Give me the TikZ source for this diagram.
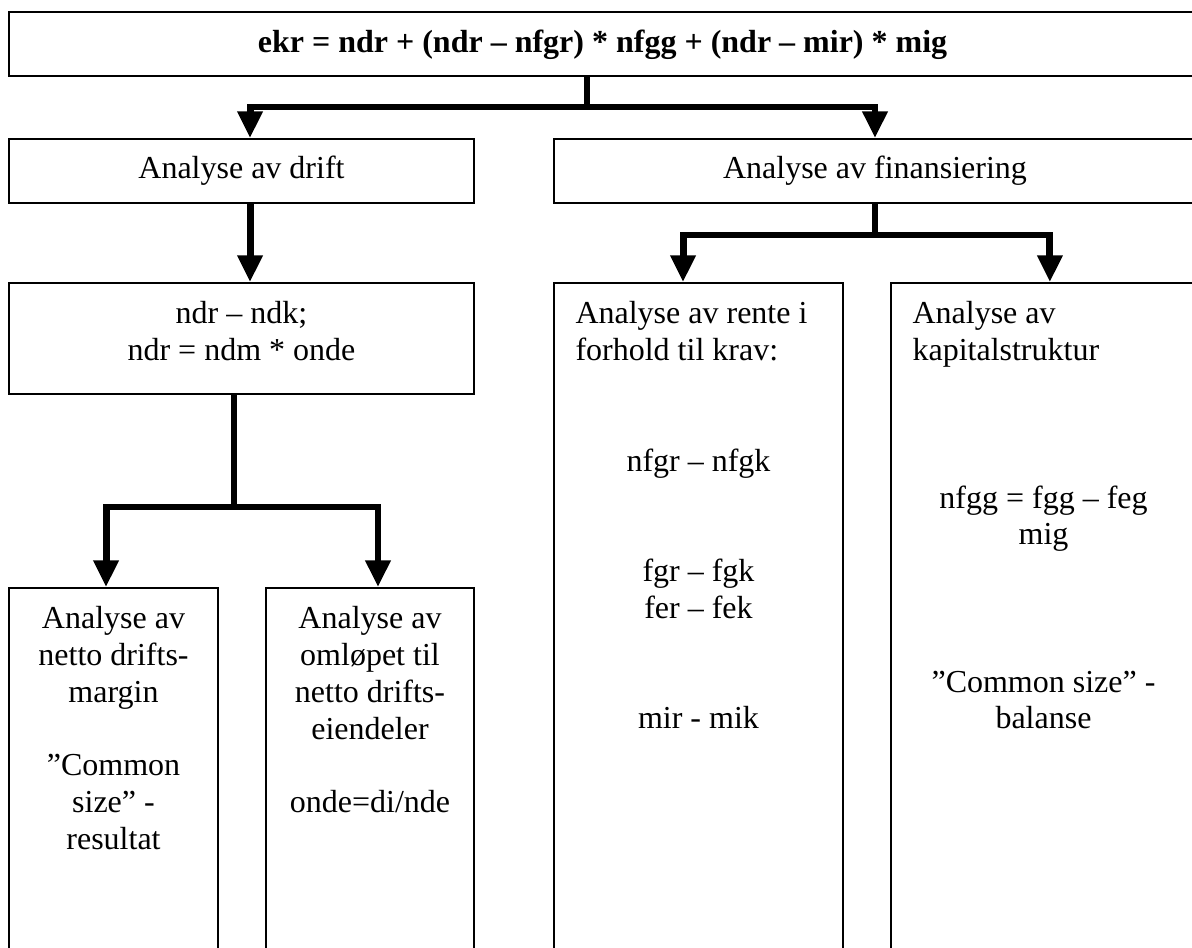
\documentclass[tikz,border=0pt]{standalone}
\usepackage{fontspec}
\setmainfont{Liberation Serif}
\usetikzlibrary{arrows.meta}

\begin{document}
\begin{tikzpicture}[x=0.375pt,y=-0.375pt,
  boks/.style 2 args={draw,line width=0.7pt,inner sep=0pt,minimum width=#1*0.375pt,minimum height=#2*0.375pt},
  tekst/.style={inner sep=0pt,align=center,font=\fontsize{12}{13.8}\selectfont},
  linje/.style={line width=2.6pt},
  pil/.style={line width=2.6pt,-{Triangle[width=9pt,length=10pt]}}]
  \useasboundingbox (0,0) rectangle (1192,948);
  \clip (0,0) rectangle (1192,948);
  % boxes (right and bottom edges run off the page)
  \node[boks={1187}{64}] (topp) at (602.5,44) {};
  \node[boks={465}{64}] (drift) at (241.5,171) {};
  \node[boks={642}{64}] (fin) at (875,171) {};
  \node[boks={465}{111}] (ndr) at (241.5,338.5) {};
  \node[boks={209}{392}] (margin) at (113.5,784) {};
  \node[boks={208}{392}] (omlop) at (370,784) {};
  \node[boks={289}{697}] (rente) at (698.5,631.5) {};
  \node[boks={305}{697}] (kapital) at (1043.5,631.5) {};
  % texts
  \node[tekst,font=\fontsize{12}{13.8}\selectfont\bfseries,anchor=base] (topp-t) at (602.5,53)
    {ekr = ndr + (ndr – nfgr) * nfgg + (ndr – mir) * mig};
  \node[tekst,anchor=base] (drift-t) at (241.5,179) {Analyse av drift};
  \node[tekst,anchor=base] (fin-t) at (875,179) {Analyse av finansiering};
  \node[tekst,anchor=north] (ndr-t) at (241.5,301) {ndr – ndk;\\ ndr = ndm * onde};
  \node[tekst,anchor=north] (margin-t) at (113.5,606)
    {Analyse av\\ netto drifts-\\ margin\\[13.8pt] ”Common\\ size” -\\ resultat};
  \node[tekst,anchor=north] (omlop-t) at (370,606)
    {Analyse av\\ omløpet til\\ netto drifts-\\ eiendeler\\[13.8pt] onde=di/nde};
  \node[tekst,align=left,anchor=north west] (rente-h) at (575,301) {Analyse av rente i\\ forhold til krav:};
  \node[tekst,anchor=north] (rente-t) at (698.5,448)
    {nfgr – nfgk\\[27.6pt] fgr – fgk\\ fer – fek\\[27.6pt] mir - mik};
  \node[tekst,align=left,anchor=north west] (kapital-h) at (912,301) {Analyse av\\ kapitalstruktur};
  \node[tekst,anchor=north] (kapital-t) at (1043.5,485)
    {nfgg = fgg – feg\\ mig\\[41.4pt] ”Common size” -\\ balanse};
  % connectors
  \coordinate (k1) at (587,107);
  \coordinate (k2) at (234,507);
  \coordinate (k3) at (875,235);
  \draw[linje] (topp.south -| k1) -- (k1);
  \draw[pil] (k1) -| ([xshift=3.2pt]drift.north);
  \draw[pil] (k1) -| (fin.north);
  \draw[pil] ([xshift=3.2pt]drift.south) -- ([xshift=3.2pt]ndr.north);
  \draw[linje] (ndr.south -| k2) -- (k2);
  \draw[pil] (k2) -| ([xshift=-2.8pt]margin.north);
  \draw[pil] (k2) -| ([xshift=3pt]omlop.north);
  \draw[linje] (fin.south) -- (k3);
  \draw[pil] (k3) -| ([xshift=-5.8pt]rente.north);
  \draw[pil] (k3) -| ([xshift=2.4pt]kapital.north);
\end{tikzpicture}
\end{document}
